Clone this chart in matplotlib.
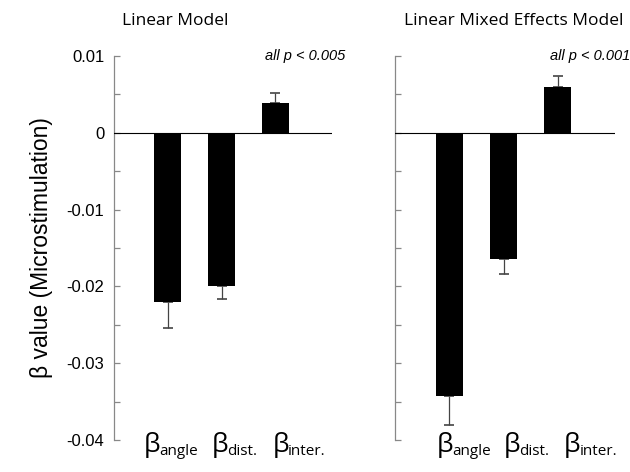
import matplotlib.pyplot as plt
import numpy as np

# beta coefficients and one-sided SEM for each model
terms = ['angle', 'dist.', 'inter.']
lm_beta = [-0.0220, -0.0199, 0.0039]
lm_err = [0.0034, 0.0017, 0.0013]
lme_beta = [-0.0343, -0.0164, 0.0060]
lme_err = [0.0038, 0.0020, 0.0014]
titles = ['Linear Model', 'Linear Mixed Effects Model']
pvals = ['all p < 0.005', 'all p < 0.001']

fig = plt.figure(figsize=(6.3, 4.72), dpi=100)
ax1 = fig.add_axes([0.181, 0.0678, 0.346, 0.8136])
ax2 = fig.add_axes([0.627, 0.0678, 0.349, 0.8136])

# horizontal pixel shift of each beta label relative to its bar
label_shift = {ax1: [-24, -10, -3], ax2: [-13, 0, 6]}

x = np.arange(1, 4)
for ax, beta, err, title, pv in zip([ax1, ax2], [lm_beta, lme_beta], [lm_err, lme_err], titles, pvals):
    ax.bar(x, beta, width=0.5, color='black', zorder=2)
    # error bars only on the side away from zero
    lo = [e if b < 0 else 0 for b, e in zip(beta, err)]
    hi = [e if b > 0 else 0 for b, e in zip(beta, err)]
    ax.errorbar(x, beta, yerr=[lo, hi], fmt='none', ecolor='#444444',
                elinewidth=0.9, capsize=3.5, capthick=1.2, zorder=1)
    ax.axhline(0, color='black', lw=0.8, zorder=3)
    ax.set_xlim(0, 4.05)
    ax.set_ylim(-0.04, 0.01)
    for s in ['top', 'right', 'bottom']:
        ax.spines[s].set_visible(False)
    ax.spines['left'].set_color('#888888')
    ax.spines['left'].set_linewidth(0.9)
    ax.set_yticks(np.arange(-0.04, 0.0101, 0.005))
    ax.tick_params(axis='y', direction='in', length=4, color='#888888', width=0.9, pad=7)
    ax.set_xticks([])
    trans = ax.get_xaxis_transform()
    for xi, t, dx in zip(x, terms, label_shift[ax]):
        b = ax.annotate('β', (xi, 0), xycoords=trans, xytext=(dx, -12), textcoords='offset pixels',
                        ha='left', va='baseline', fontsize=19, family='Open Sans')
        # subscript hangs off the lower right corner of the beta
        ax.annotate(t, (1, 0), xycoords=b, xytext=(-1, 3), textcoords='offset pixels',
                    ha='left', va='baseline', fontsize=11, family='Open Sans')
    ax.set_title(title, fontsize=12.5, family='Open Sans', x=0.28 if ax is ax1 else 0.54, y=1.06)
    ax.text(1.06 if ax is ax1 else 1.07, 1.0, pv, transform=ax.transAxes, ha='right', va='center',
            fontsize=10.5, style='italic', family='Liberation Sans')

ax1.set_yticklabels(['-0.04', '', '-0.03', '', '-0.02', '', '-0.01', '', '0', '', '0.01'],
                    fontsize=12, family='Liberation Sans')
ax2.set_yticklabels([])
ax1.set_ylabel('β value (Microstimulation)', fontsize=16.5, family='Liberation Sans', labelpad=10)

fig.savefig('out.png', dpi=100)
